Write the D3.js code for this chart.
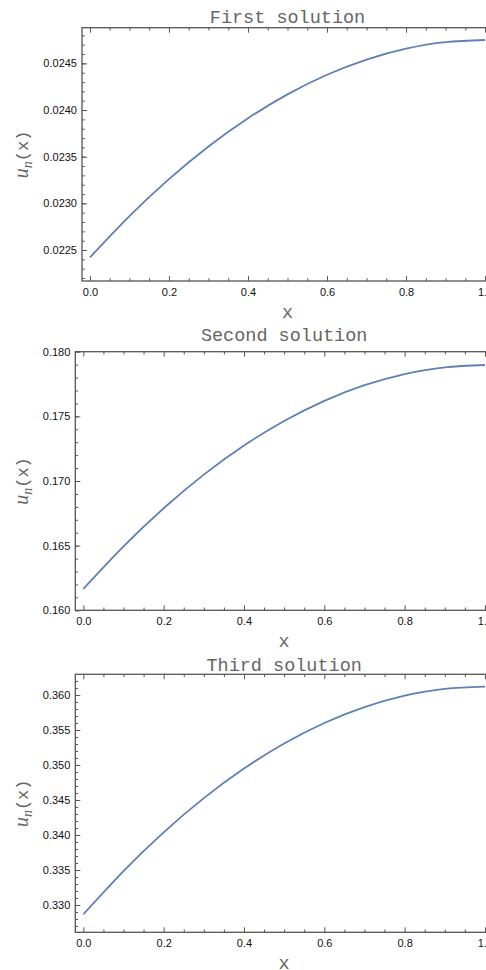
<html lang="en">
<head>
    <meta charset="UTF-8">
    <title>Solutions u_n(x)</title>
    <script src="https://d3js.org/d3.v7.min.js"></script>
    <style>
        body {
            margin: 0;
            background: #ffffff;
        }
        svg {
            display: block;
        }
        .tick text {
            font-family: 'Liberation Sans', Arial, sans-serif;
            font-size: 11px;
            fill: #111;
        }
        .frame {
            fill: none;
            stroke: #555;
            stroke-width: 1.3;
        }
        .title, .xlabel, .ylabel {
            font-family: 'Liberation Mono', 'Courier New', monospace;
            fill: #666;
        }
    </style>
</head>
<body>
    <svg id="chart" width="486" height="970"></svg>

    <script>
        const xs = [0, 0.1, 0.2, 0.3, 0.4, 0.5, 0.6, 0.7, 0.8, 0.9, 1.0];
        const firstU = [0.02242, 0.022863, 0.023259, 0.023609, 0.023912, 0.024168,
                        0.024378, 0.024541, 0.024658, 0.024728, 0.02475];
        const secondU = [0.16165, 0.16494, 0.16789, 0.17049, 0.17274, 0.17464,
                         0.17620, 0.17741, 0.17827, 0.17879, 0.17897];
        const thirdU = [0.32867, 0.33485, 0.34038, 0.34526, 0.34948, 0.35306,
                        0.35599, 0.35826, 0.35989, 0.36087, 0.36119];

        const titles = ['First solution', 'Second solution', 'Third solution'];
        const xTicks = [0, 0.2, 0.4, 0.6, 0.8, 1.0];
        const yTicks1 = [0.0225, 0.0230, 0.0235, 0.0240, 0.0245];
        const yTicks2 = [0.160, 0.165, 0.170, 0.175, 0.180];
        const yTicks3 = [0.330, 0.335, 0.340, 0.345, 0.350, 0.355, 0.360];

        const panels = [
            { title: titles[0], values: firstU, yTicks: yTicks1, fmt: '.4f', minorStep: 0.0001,
              yDomain: [0.022168, 0.024882], left: 82, top: 27.7, bottom: 281,
              titleY: 23.3, xLabelY: 318, yLabelX: 28 },
            { title: titles[1], values: secondU, yTicks: yTicks2, fmt: '.3f', minorStep: 0.001,
              yDomain: [0.160, 0.180], left: 75.3, top: 351.7, bottom: 610.3,
              titleY: 340.7, xLabelY: 647, yLabelX: 28 },
            { title: titles[2], values: thirdU, yTicks: yTicks3, fmt: '.3f', minorStep: 0.001,
              yDomain: [0.32610, 0.36295], left: 75.3, top: 674.3, bottom: 932.3,
              titleY: 670.5, xLabelY: 969, yLabelX: 28 }
        ];

        const right = 493;   // frame continues past the window edge, as in the original
        const svg = d3.select('#chart');

        panels.forEach(p => {
            const x = d3.scaleLinear().domain([-0.02, 1.02]).range([p.left, right]);
            const y = d3.scaleLinear().domain(p.yDomain).range([p.bottom, p.top]);

            const g = svg.append('g');

            const xMinor = d3.range(0, 1.0001, 0.05).filter(v => Math.abs(v * 5 - Math.round(v * 5)) > 1e-6);
            const yMinor = d3.range(p.yTicks[0] - p.minorStep * 5, p.yDomain[1], p.minorStep)
                .filter(v => v >= p.yDomain[0] && v <= p.yDomain[1]);

            // minor ticks on all four sides
            g.append('g').attr('transform', `translate(0,${p.bottom})`)
                .call(d3.axisBottom(x).tickValues(xMinor).tickSize(-2.8).tickSizeOuter(0).tickFormat(''));
            g.append('g').attr('transform', `translate(0,${p.top})`)
                .call(d3.axisTop(x).tickValues(xMinor).tickSize(-2.8).tickSizeOuter(0).tickFormat(''));
            g.append('g').attr('transform', `translate(${p.left},0)`)
                .call(d3.axisLeft(y).tickValues(yMinor).tickSize(-2.8).tickSizeOuter(0).tickFormat(''));
            g.append('g').attr('transform', `translate(${right},0)`)
                .call(d3.axisRight(y).tickValues(yMinor).tickSize(-2.8).tickSizeOuter(0).tickFormat(''));

            // major ticks
            g.append('g').attr('transform', `translate(0,${p.bottom})`)
                .call(d3.axisBottom(x).tickValues(xTicks).tickSize(-5).tickSizeOuter(0)
                    .tickPadding(7).tickFormat(d3.format('.1f')));
            g.append('g').attr('transform', `translate(0,${p.top})`)
                .call(d3.axisTop(x).tickValues(xTicks).tickSize(-5).tickSizeOuter(0).tickFormat(''));
            g.append('g').attr('transform', `translate(${p.left},0)`)
                .call(d3.axisLeft(y).tickValues(p.yTicks).tickSize(-5).tickSizeOuter(0)
                    .tickPadding(5).tickFormat(d3.format(p.fmt)));
            g.append('g').attr('transform', `translate(${right},0)`)
                .call(d3.axisRight(y).tickValues(p.yTicks).tickSize(-5).tickSizeOuter(0).tickFormat(''));

            g.selectAll('.domain').remove();
            g.selectAll('.tick line').attr('stroke', '#555');

            g.append('rect')
                .attr('class', 'frame')
                .attr('x', p.left)
                .attr('y', p.top)
                .attr('width', right - p.left)
                .attr('height', p.bottom - p.top);

            const line = d3.line()
                .x((d, i) => x(xs[i]))
                .y(d => y(d))
                .curve(d3.curveNatural);

            g.append('path')
                .datum(p.values)
                .attr('d', line)
                .attr('fill', 'none')
                .attr('stroke', '#5e81b5')
                .attr('stroke-width', 1.8);

            const cx = (p.left + right) / 2;

            g.append('text')
                .attr('class', 'title')
                .attr('x', cx)
                .attr('y', p.titleY)
                .attr('text-anchor', 'middle')
                .style('font-size', '18.5px')
                .text(p.title);

            g.append('text')
                .attr('class', 'xlabel')
                .attr('x', cx)
                .attr('y', p.xLabelY)
                .attr('text-anchor', 'middle')
                .style('font-size', '18.5px')
                .text('x');

            const cy = (p.top + p.bottom) / 2;
            const yl = g.append('text')
                .attr('class', 'ylabel')
                .attr('transform', `translate(${p.yLabelX},${cy}) rotate(-90)`)
                .attr('text-anchor', 'middle')
                .style('font-size', '17px');
            yl.append('tspan')
                .style('font-family', "'Liberation Serif', serif")
                .style('font-style', 'italic')
                .style('font-size', '20px')
                .text('u');
            yl.append('tspan')
                .style('font-family', "'Liberation Serif', serif")
                .style('font-style', 'italic')
                .style('font-size', '14px')
                .attr('dy', 4)
                .text('n');
            yl.append('tspan')
                .attr('dy', -4)
                .text('(x)');
        });
    </script>
</body>
</html>
